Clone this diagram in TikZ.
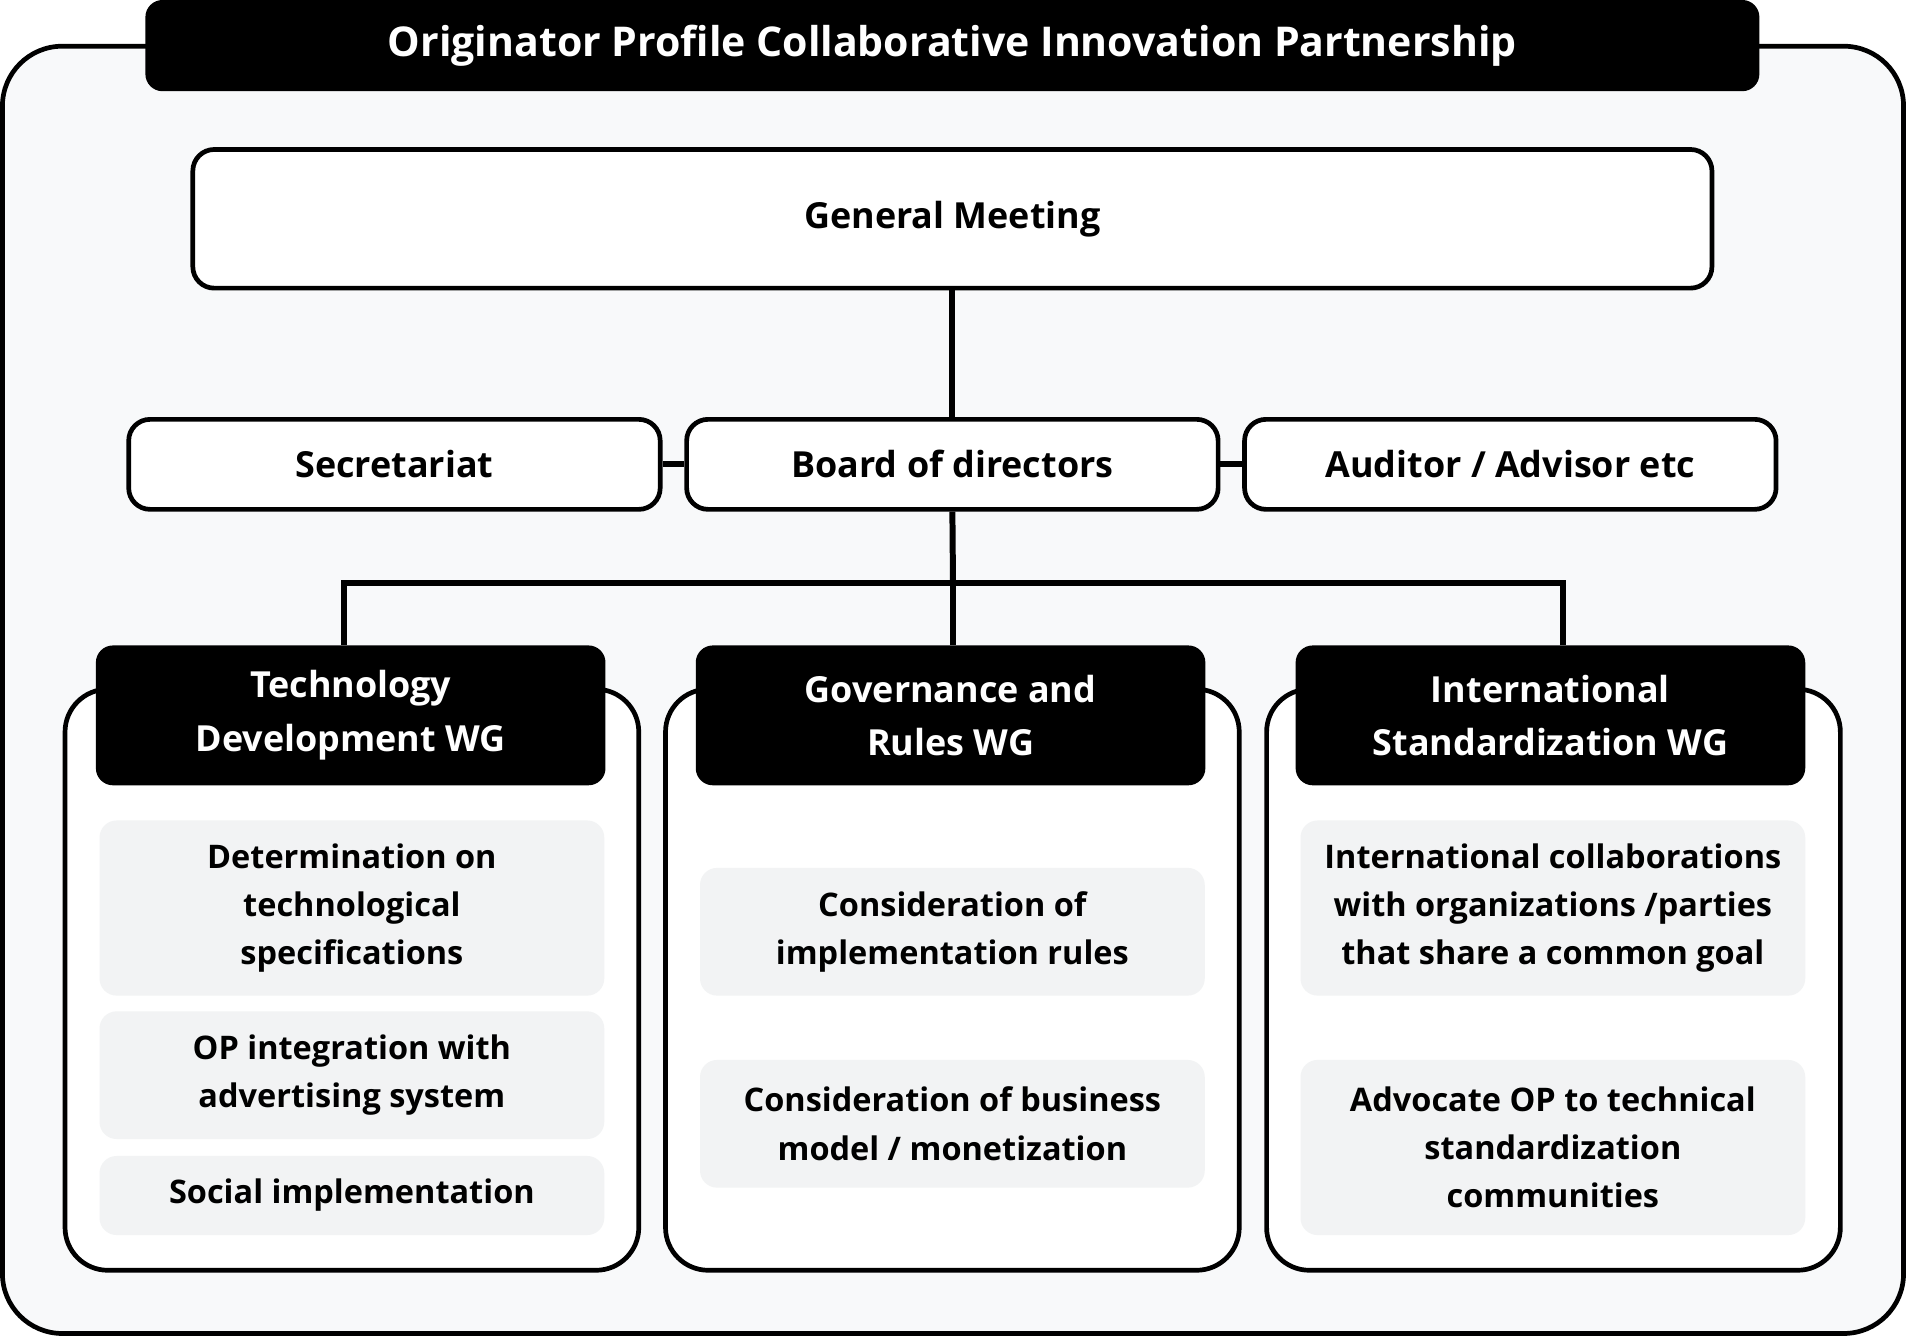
\documentclass[tikz,border=0pt]{standalone}
\usepackage{fontspec}
\setmainfont{Open Sans}
\usetikzlibrary{positioning}
\definecolor{panelbg}{HTML}{F8F9FA}
\definecolor{itembg}{HTML}{F2F3F4}
\tikzset{
  box/.style={draw=black, line width=1.1pt, rounded corners=5pt, fill=white, font=\bfseries\fontsize{8.4}{11}\selectfont},
  hdr/.style={fill=black, rounded corners=4pt, text=white, align=center, font=\bfseries\fontsize{8.4}{12.5}\selectfont},
  item/.style={fill=itembg, rounded corners=4pt, align=center, font=\bfseries\fontsize{7.6}{11.3}\selectfont},
  link/.style={line width=1.4pt}
}
\begin{document}
\begin{tikzpicture}[x=0.01cm,y=-0.01cm]
    \useasboundingbox (0,0) rectangle (1568,1099);
    % frame
    \draw[line width=1.1pt, rounded corners=14pt, fill=panelbg] (2,38) rectangle (1566,1097);
    \node[hdr, minimum width=13.27cm, minimum height=0.75cm, font=\bfseries\fontsize{9.6}{12}\selectfont] (title) at (783.5,37.5) {Originator Profile Collaborative Innovation Partnership};

    % top level
    \node[box, minimum width=12.49cm, minimum height=1.14cm] (gm) at (783.5,180) {General Meeting};
    \node[box, minimum width=4.37cm, minimum height=0.74cm] (board) at (783.5,382) {Board of directors};
    \node[box, minimum width=4.37cm, minimum height=0.74cm] (sec) at (324.5,382) {Secretariat};
    \node[box, minimum width=4.37cm, minimum height=0.74cm] (aud) at (1242.5,382) {Auditor / Advisor etc};

    % working group panels
    \foreach \cx in {289.5,783.5,1278}
        \draw[line width=1.1pt, rounded corners=10pt, fill=white] (\cx-236,567) rectangle (\cx+236,1045);
    \node[hdr, minimum width=4.19cm, minimum height=1.15cm] (tech) at (288.5,588.5) {Technology\\Development WG};
    \node[hdr, minimum width=4.19cm, minimum height=1.15cm] (gov) at (782,588.5) {Governance and\\Rules WG};
    \node[hdr, minimum width=4.19cm, minimum height=1.15cm] (intl) at (1275.5,588.5) {International\\Standardization WG};

    % items
    \node[item, minimum width=4.15cm, minimum height=1.44cm] (t1) at (289.5,747) {Determination on\\technological\\specifications};
    \node[item, minimum width=4.15cm, minimum height=1.05cm] (t2) at (289.5,884.5) {OP integration with\\advertising system};
    \node[item, minimum width=4.15cm, minimum height=0.65cm] (t3) at (289.5,983.5) {Social implementation};
    \node[item, minimum width=4.15cm, minimum height=1.05cm] (g1) at (783.5,766.5) {Consideration of\\implementation rules};
    \node[item, minimum width=4.15cm, minimum height=1.05cm] (g2) at (783.5,924.5) {Consideration of business\\model / monetization};
    \node[item, minimum width=4.15cm, minimum height=1.44cm] (i1) at (1277.5,747) {International collaborations\\with organizations /parties\\that share a common goal};
    \node[item, minimum width=4.15cm, minimum height=1.44cm] (i2) at (1277.5,944) {Advocate OP to technical\\standardization\\communities};

    % connectors
    \coordinate (split) at (784,480);
    \draw[link] (gm.south) -- (board.north);
    \draw[link] (sec.east) -- (board.west);
    \draw[link] (board.east) -- (aud.west);
    \draw[link] (board.south) -- (split);
    \draw[link] (split) -| (283,531);
    \draw[link] (split) -| (1286,531);
    \draw[link] (split) -- (gov.north -| split);
\end{tikzpicture}
\end{document}
